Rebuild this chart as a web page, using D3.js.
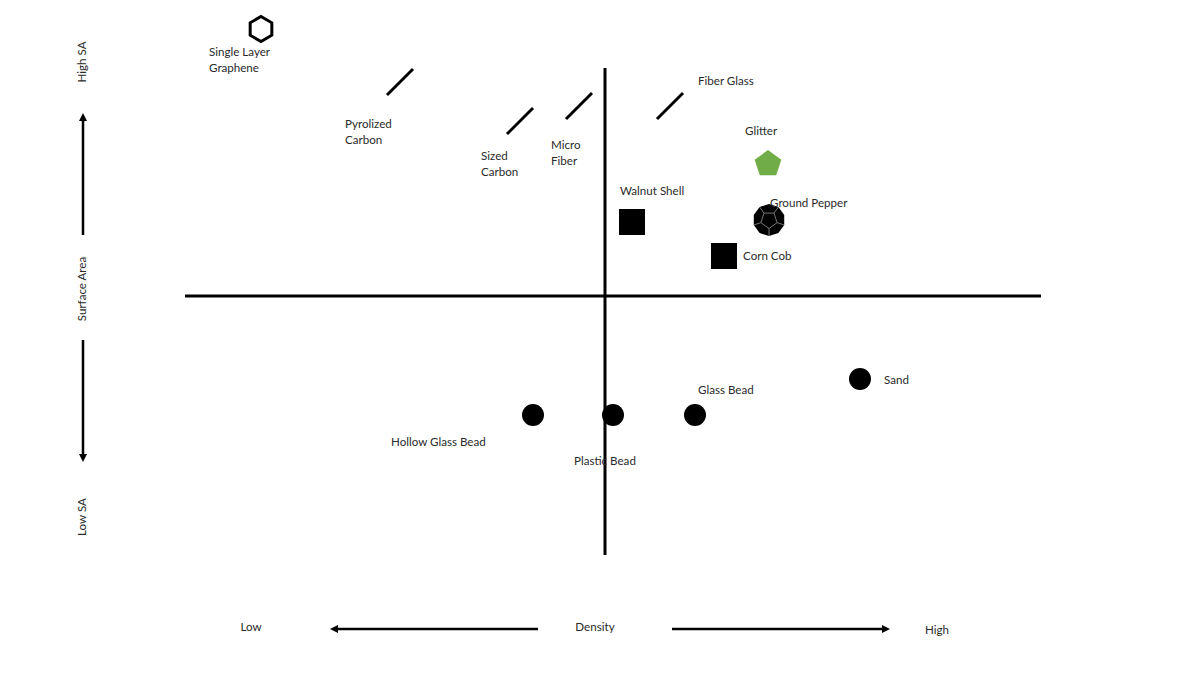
<!DOCTYPE html>
<html>
<head>
<meta charset="utf-8">
<script src="https://cdn.jsdelivr.net/npm/d3@7"></script>
<style>
  body { margin: 0; background: #fff; }
  text { font-family: Lato, "Open Sans", sans-serif; font-size: 11.6px; fill: #2a2a2a; }
</style>
</head>
<body>
<script>
// materials placed by density (x) and surface area (y), arbitrary units
const names = ["Single Layer\nGraphene", "Pyrolized\nCarbon", "Sized\nCarbon", "Micro\nFiber", "Fiber Glass",
  "Glitter", "Walnut Shell", "Ground Pepper", "Corn Cob",
  "Hollow Glass Bead", "Plastic Bead", "Glass Bead", "Sand"];
const density = [-3.44, -2.05, -0.85, -0.26, 0.65, 1.63, 0.27, 1.64, 1.19, -0.72, 0.08, 0.90, 2.55];
const surface = [2.67, 2.14, 1.75, 1.90, 1.90, 1.32, 0.74, 0.76, 0.40, -1.19, -1.19, -1.19, -0.83];
const shapes = ["hexagon", "fiber", "fiber", "fiber", "fiber", "pentagon", "square", "dodeca", "square",
  "circle", "circle", "circle", "circle"];

// label offsets from each mark
const labelDx = [-52, -55, -39, -28, 28, -23, -12, 1, 19, -142, -39, 3, 24];
const labelDy = [24, 43, 36, 40, -24, -32, -30, -16, 1, 28, 47, -24, 2];

const densityExtent = [-4.2, 4.36];
const surfaceExtent = [-2.59, 2.28];

const w = 1200, h = 675;

const x = d3.scaleLinear().domain(densityExtent).range([185, 1041]);
const y = d3.scaleLinear().domain(surfaceExtent).range([555, 68]);

const svg = d3.select("body").append("svg")
  .attr("width", w)
  .attr("height", h);

const defs = svg.append("defs");
defs.append("marker")
  .attr("id", "arrow")
  .attr("viewBox", "0 0 10 10")
  .attr("refX", 5).attr("refY", 5)
  .attr("markerWidth", 3.2).attr("markerHeight", 3.2)
  .attr("orient", "auto")
  .append("path")
  .attr("d", "M0,0 L10,5 L0,10 z")
  .attr("fill", "#000");

// quadrant axes
svg.append("line")
  .attr("x1", x(densityExtent[0])).attr("x2", x(densityExtent[1]))
  .attr("y1", y(0)).attr("y2", y(0))
  .attr("stroke", "#000").attr("stroke-width", 3);
svg.append("line")
  .attr("x1", x(0)).attr("x2", x(0))
  .attr("y1", y(surfaceExtent[0])).attr("y2", y(surfaceExtent[1]))
  .attr("stroke", "#000").attr("stroke-width", 3);

function polygon(n, r, rot) {
  const pts = d3.range(n).map(i => {
    const a = rot + i * 2 * Math.PI / n;
    return [r * Math.cos(a), r * Math.sin(a)];
  });
  return d3.line()(pts) + "Z";
}

const marks = svg.append("g").selectAll("g")
  .data(names.map((n, i) => ({ name: n, dx: density[i], sa: surface[i], shape: shapes[i], i })))
  .enter().append("g")
  .attr("transform", d => `translate(${x(d.dx)},${y(d.sa)})`);

marks.each(function (d) {
  const g = d3.select(this);
  if (d.shape === "circle") {
    g.append("path").attr("d", d3.symbol(d3.symbolCircle, 380)()).attr("fill", "#000");
  } else if (d.shape === "square") {
    g.append("path").attr("d", d3.symbol(d3.symbolSquare, 676)()).attr("fill", "#000");
  } else if (d.shape === "fiber") {
    g.append("line").attr("x1", -13).attr("y1", 13).attr("x2", 13).attr("y2", -13)
      .attr("stroke", "#000").attr("stroke-width", 3);
  } else if (d.shape === "hexagon") {
    g.append("path").attr("d", polygon(6, 12.5, -Math.PI / 2))
      .attr("fill", "#fff").attr("stroke", "#000").attr("stroke-width", 3);
  } else if (d.shape === "pentagon") {
    g.append("path").attr("d", polygon(5, 14, -Math.PI / 2)).attr("fill", "#70ad47");
  } else if (d.shape === "dodeca") {
    const R = 16, r = 8.5;
    g.append("path").attr("d", polygon(10, R, -Math.PI / 2)).attr("fill", "#000");
    g.append("path").attr("d", polygon(5, r, Math.PI / 2))
      .attr("fill", "none").attr("stroke", "#777").attr("stroke-width", 1);
    d3.range(5).forEach(k => {
      const a = Math.PI / 2 + k * 2 * Math.PI / 5;
      g.append("line")
        .attr("x1", r * Math.cos(a)).attr("y1", r * Math.sin(a))
        .attr("x2", R * Math.cos(a)).attr("y2", R * Math.sin(a))
        .attr("stroke", "#777").attr("stroke-width", 1);
    });
  }

  const lines = d.name.split("\n");
  const t = g.append("text")
    .attr("x", labelDx[d.i])
    .attr("y", labelDy[d.i])
    .attr("dominant-baseline", "middle");
  lines.forEach((s, k) => {
    t.append("tspan").attr("x", labelDx[d.i]).attr("dy", k === 0 ? 0 : 16).text(s);
  });
});

// surface area guide on the left
const guideX = 83;
svg.append("line").attr("x1", guideX).attr("x2", guideX).attr("y1", 235).attr("y2", 117)
  .attr("stroke", "#000").attr("stroke-width", 2.5).attr("marker-end", "url(#arrow)");
svg.append("line").attr("x1", guideX).attr("x2", guideX).attr("y1", 340).attr("y2", 458)
  .attr("stroke", "#000").attr("stroke-width", 2.5).attr("marker-end", "url(#arrow)");
[["High SA", 62], ["Surface Area", 289], ["Low SA", 517]].forEach(([s, cy]) => {
  svg.append("text")
    .attr("transform", `translate(${guideX},${cy}) rotate(-90)`)
    .attr("text-anchor", "middle")
    .attr("dominant-baseline", "middle")
    .text(s);
});

// density guide at the bottom
const guideY = 629;
svg.append("line").attr("x1", 538).attr("x2", 334).attr("y1", guideY).attr("y2", guideY)
  .attr("stroke", "#000").attr("stroke-width", 2.5).attr("marker-end", "url(#arrow)");
svg.append("line").attr("x1", 672).attr("x2", 886).attr("y1", guideY).attr("y2", guideY)
  .attr("stroke", "#000").attr("stroke-width", 2.5).attr("marker-end", "url(#arrow)");
[["Low", 251, 628], ["Density", 595, 628], ["High", 937, 631]].forEach(([s, cx, cy]) => {
  svg.append("text")
    .attr("x", cx).attr("y", cy)
    .attr("text-anchor", "middle")
    .attr("dominant-baseline", "middle")
    .text(s);
});
</script>
</body>
</html>
